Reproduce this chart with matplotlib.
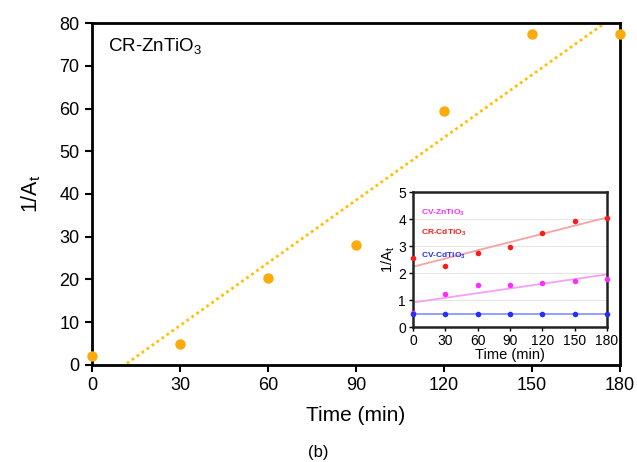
import numpy as np
import matplotlib
matplotlib.use("Agg")
import matplotlib.pyplot as plt

plt.rcParams['font.family'] = ['Liberation Sans', 'DejaVu Sans']

# Main panel: CR-ZnTiO3
time_min = [0, 30, 60, 90, 120, 150, 180]
inv_a_cr_zn = [2.0, 5.0, 20.4, 28.0, 59.4, 77.5, 77.5]

# Inset: other catalyst/dye combinations
inv_a_cv_zn = [0.53, 1.22, 1.54, 1.57, 1.62, 1.72, 1.79]
inv_a_cr_cd = [2.57, 2.25, 2.75, 2.98, 3.48, 3.94, 4.04]
inv_a_cv_cd = [0.47, 0.47, 0.47, 0.47, 0.47, 0.47, 0.47]

main_ticks_x = [0, 30, 60, 90, 120, 150, 180]
main_ticks_y = [0, 10, 20, 30, 40, 50, 60, 70, 80]
inset_ticks_y = [0, 1, 2, 3, 4, 5]

fig = plt.figure(figsize=(6.37, 4.62), dpi=100)
ax = fig.add_axes([0.1444, 0.2100, 0.8289, 0.7402])

t = np.array(time_min, dtype=float)
xs = np.linspace(0, 180, 200)

# linear fit for the main series
k, b = np.polyfit(t, inv_a_cr_zn, 1)
ax.plot(xs, k * xs + b, linestyle=(0, (1, 1.2)), color='#ffc000', lw=2.0, zorder=2)
ax.plot(t, inv_a_cr_zn, 'o', color='#fbab0a', ms=7.5, mec='none', zorder=3, clip_on=False)

ax.set_xlim(0, 180)
ax.set_ylim(0, 80)
ax.set_xticks(main_ticks_x)
ax.set_yticks(main_ticks_y)
ax.tick_params(labelsize=13, direction='out', length=5, width=1.5, pad=4)
for s in ax.spines.values():
    s.set_linewidth(2)
ax.set_xlabel('Time (min)', fontsize=15, labelpad=8)
ax.set_ylabel('1/A$_\\mathregular{t}$', fontsize=15.5, labelpad=12)
ax.text(0.03, 0.93, 'CR-ZnTiO$_\\mathregular{3}$', transform=ax.transAxes,
        fontsize=13.5, ha='left', va='center')

fig.text(0.5, 0.004, '(b)', ha='center', va='bottom', fontsize=12)

# Inset
ins = fig.add_axes([0.6484, 0.2922, 0.3045, 0.2922])
series = [
    (inv_a_cr_cd, '#ff1a1a', '#f5a3a3'),
    (inv_a_cv_zn, '#ff2cff', '#f5a0f5'),
    (inv_a_cv_cd, '#2030ff', '#8d97ff'),
]
for vals, mc, lc in series:
    k2, b2 = np.polyfit(t, vals, 1)
    ins.plot(xs, k2 * xs + b2, color=lc, lw=1.3, zorder=2)
    ins.plot(t, vals, 'o', color=mc, ms=4, mec='none', zorder=3, clip_on=False)

ins.set_xlim(0, 180)
ins.set_ylim(0, 5)
ins.set_xticks(main_ticks_x)
ins.set_yticks(inset_ticks_y)
ins.grid(axis='y', color='#e6e6e6', lw=0.8)
ins.set_axisbelow(True)
ins.tick_params(labelsize=10, direction='out', length=3, width=1, pad=2)
for s in ins.spines.values():
    s.set_linewidth(1.8)
    s.set_color('#222222')
ins.set_xlabel('Time (min)', fontsize=10.5, labelpad=0)
ins.set_ylabel('1/A$_\\mathregular{t}$', fontsize=10.5, labelpad=1)

ins.text(0.04, 0.85, 'CV-ZnTiO$_\\mathregular{3}$', transform=ins.transAxes,
         fontsize=6, fontweight='bold', color='#ff2cff', va='center')
ins.text(0.04, 0.70, 'CR-CdTiO$_\\mathregular{3}$', transform=ins.transAxes,
         fontsize=6, fontweight='bold', color='#ff1a1a', va='center')
ins.text(0.04, 0.53, 'CV-CdTiO$_\\mathregular{3}$', transform=ins.transAxes,
         fontsize=6, fontweight='bold', color='#2030ff', va='center')

fig.savefig('out.png', dpi=100)
